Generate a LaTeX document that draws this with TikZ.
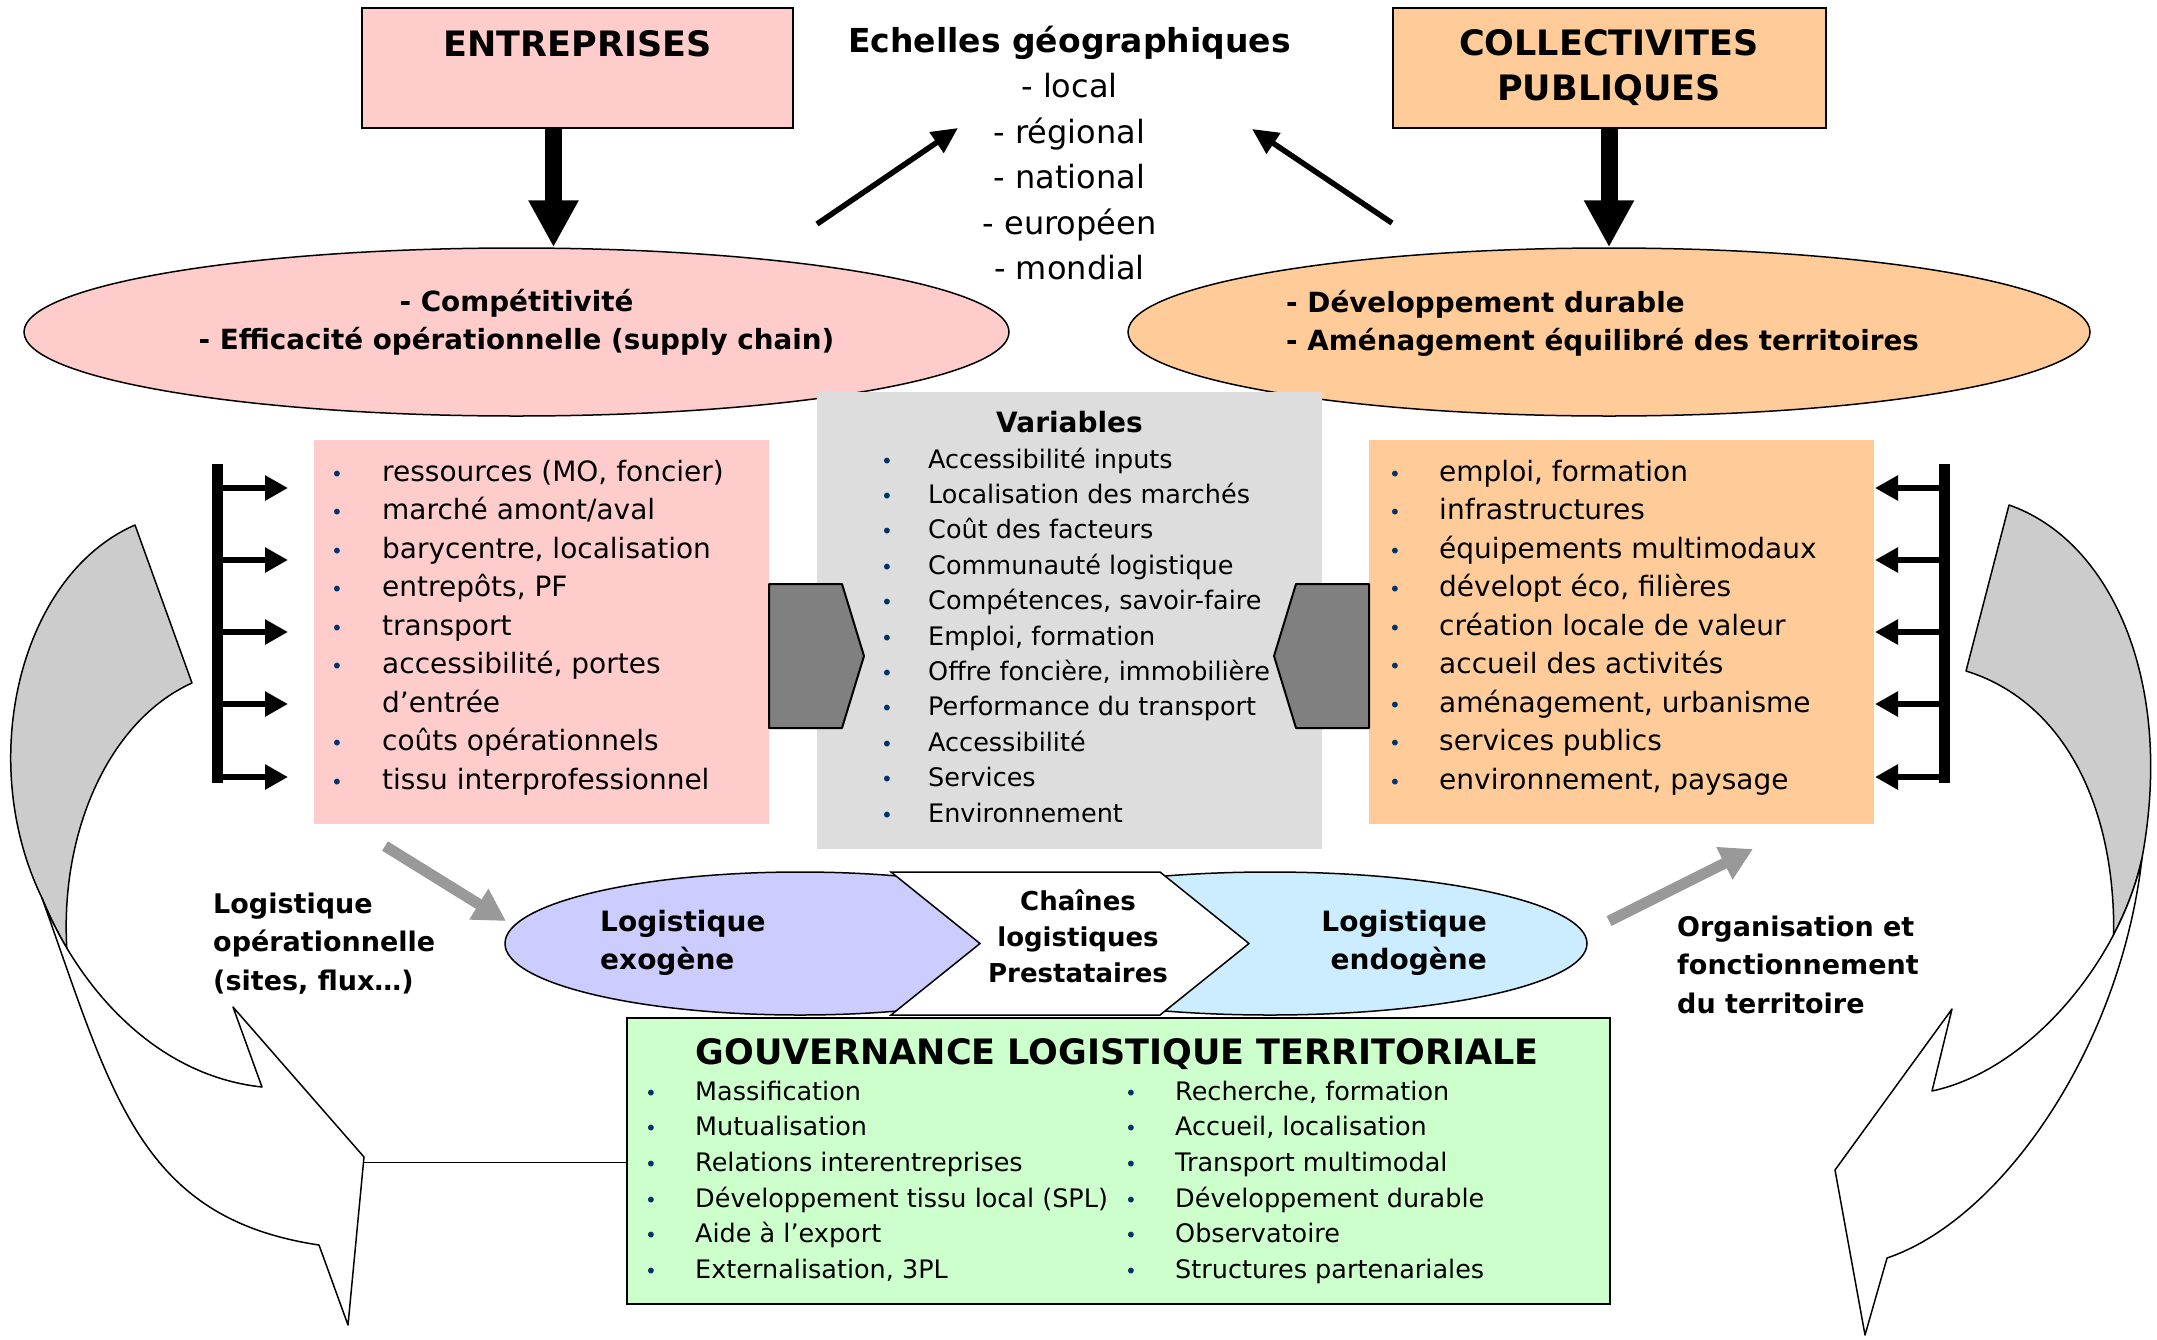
\documentclass[tikz,border=0pt]{standalone}
\usepackage{fontspec}
\setmainfont{DejaVu Sans}
\usetikzlibrary{shapes.geometric,arrows.meta}
\definecolor{rose}{HTML}{FFCCCC}
\definecolor{peche}{HTML}{FFCC99}
\definecolor{gris}{HTML}{DDDDDD}
\definecolor{vert}{HTML}{CCFFCC}
\definecolor{lavande}{HTML}{CCCCFF}
\definecolor{ciel}{HTML}{CCECFF}
\definecolor{ardoise}{HTML}{808080}
\definecolor{cendre}{HTML}{999999}
\definecolor{argent}{HTML}{CCCCCC}
\definecolor{puce}{HTML}{003366}
\newcommand{\bul}[1][44]{\makebox[#1pt][l]{\textcolor{puce}{\fontsize{20}{20}\selectfont\textbullet}}}
\begin{document}
\begin{tikzpicture}[x=1pt,y=-1pt,
  boite/.style={draw,line width=2pt,inner sep=0pt},
  liste/.style={inner sep=0pt,anchor=north west,align=left},
  gras/.style={inner sep=0pt,font=\fontsize{27}{38.5}\selectfont\bfseries},
  ovale/.style={ellipse,draw,line width=1.5pt,inner sep=0pt},
  grosse/.style={line width=17pt,-{Triangle[length=47pt,width=47pt]}},
  fine/.style={line width=5.5pt,-{Triangle[length=26pt,width=24pt]}},
  peigne/.style={line width=6pt,-{Triangle[length=23pt,width=24pt]}},
  grise/.style={draw=cendre,line width=11pt,-{Triangle[length=32pt,width=34pt]}},
  courbe/.style={draw,line width=1.5pt,line join=round}]
\path[use as bounding box,fill=white] (0,0) rectangle (2157,1339);
\node[boite,fill=rose,minimum width=431,text height=48,text depth=72,anchor=base,font=\fontsize{35}{45}\selectfont\bfseries] (entreprises) at (577.5,56) {ENTREPRISES};
\node[boite,fill=peche,minimum width=433,minimum height=120,align=center,font=\fontsize{35}{45}\selectfont\bfseries] (collectivites) at (1609,68) {COLLECTIVITES\\PUBLIQUES};
\node[ovale,fill=rose,minimum width=985,minimum height=168] (objentreprises) at (516.5,332) {};
\node[ovale,fill=peche,minimum width=962,minimum height=168] (objcollectivites) at (1609,332) {};
\node[gras,align=center,anchor=north,font=\fontsize{27.8}{38}\selectfont\bfseries] (txtentreprises) at (516.5,284.4) {\strut- Compétitivité\\- Efficacité opérationnelle (supply chain)};
\node[gras,align=left,anchor=north west,font=\fontsize{27.8}{38}\selectfont\bfseries] (txtcollectivites) at (1286,285.4) {\strut- Développement durable\\- Aménagement équilibré des territoires};
\node[inner sep=0pt,align=center,anchor=north,font=\fontsize{32}{45.5}\selectfont] (echelles) at (1069.5,20.15) {\strut{\fontsize{33}{45.5}\selectfont\bfseries Echelles géographiques}\\- local\\- régional\\- national\\- européen\\- mondial};
\draw[grosse] ([xshift=-24pt]entreprises.south) -- ([xshift=-24pt]entreprises.south |- objentreprises.north);
\draw[grosse] (collectivites.south) -- (objcollectivites.north);
\coordinate (departG) at (817,224);
\coordinate (arriveeG) at (958,128);
\coordinate (departD) at (1392,223);
\coordinate (arriveeD) at (1252,129);
\draw[fine] (departG) -- (arriveeG);
\draw[fine] (departD) -- (arriveeD);
\node[fill=rose,inner sep=0pt,minimum width=455,minimum height=384,anchor=north west] (cadreentreprises) at (314,440) {};
\node[fill=peche,inner sep=0pt,minimum width=505,minimum height=384,anchor=north west] (cadrecollectivites) at (1369,440) {};
\node[fill=gris,inner sep=0pt,minimum width=505,minimum height=457,anchor=north west] (variables) at (817,392) {};
\filldraw[fill=ardoise,line width=2pt,line join=round] (769,584) -- (842,584) -- (864,656) -- (842,728) -- (769,728) -- cycle;
\filldraw[fill=ardoise,line width=2pt,line join=round] (1369,584) -- (1296,584) -- (1274,656) -- (1296,728) -- (1369,728) -- cycle;
\node[inner sep=0pt,anchor=base,font=\fontsize{28}{28}\selectfont\bfseries] (vartitre) at (1069.5,432) {Variables};
\node[liste,font=\fontsize{25.5}{35.4}\selectfont] (varliste) at (881,443.2) {\strut\bul[47]Accessibilité inputs\\ \bul[47]Localisation des marchés\\ \bul[47]Coût des facteurs\\ \bul[47]Communauté logistique\\ \bul[47]Compétences, savoir-faire\\ \bul[47]Emploi, formation\\ \bul[47]Offre foncière, immobilière\\ \bul[47]Performance du transport\\ \bul[47]Accessibilité\\ \bul[47]Services\\ \bul[47]Environnement};
\node[liste,font=\fontsize{28}{38.5}\selectfont] (listentreprises) at (331,454) {\strut\bul[51]ressources (MO, foncier)\\ \bul[51]marché amont/aval\\ \bul[51]barycentre, localisation\\ \bul[51]entrepôts, PF\\ \bul[51]transport\\ \bul[51]accessibilité, portes\\ \hspace*{51pt}d’entrée\\ \bul[51]coûts opérationnels\\ \bul[51]tissu interprofessionnel};
\node[liste,font=\fontsize{28}{38.5}\selectfont] (listcollectivites) at (1389,454) {\strut\bul[50]emploi, formation\\ \bul[50]infrastructures\\ \bul[50]équipements multimodaux\\ \bul[50]dévelopt éco, filières\\ \bul[50]création locale de valeur\\ \bul[50]accueil des activités\\ \bul[50]aménagement, urbanisme\\ \bul[50]services publics\\ \bul[50]environnement, paysage};
\draw[line width=11pt] (217,464) -- (217,783);
\draw[peigne] (217,488) -- (288,488);
\draw[peigne] (217,560) -- (288,560);
\draw[peigne] (217,632) -- (288,632);
\draw[peigne] (217,704) -- (288,704);
\draw[peigne] (217,777) -- (288,777);
\draw[line width=11pt] (1944,464) -- (1944,783);
\draw[peigne] (1944,488) -- (1875,488);
\draw[peigne] (1944,560) -- (1875,560);
\draw[peigne] (1944,632) -- (1875,632);
\draw[peigne] (1944,704) -- (1875,704);
\draw[peigne] (1944,777) -- (1875,777);
\coordinate (opdepart) at (385,846);
\coordinate (oparrivee) at (506,921);
\coordinate (orgdepart) at (1609,921);
\coordinate (orgarrivee) at (1753,849);
\draw[grise] (opdepart) -- (oparrivee);
\draw[grise] (orgdepart) -- (orgarrivee);
\node[ovale,fill=ciel,minimum width=634,minimum height=143] (endogene) at (1270,943.5) {};
\node[ovale,fill=lavande,minimum width=590,minimum height=143] (exogene) at (800,943.5) {};
\filldraw[fill=white,line width=1.5pt] (891,872) -- (1160,872) -- (1249,943.5) -- (1160,1015) -- (891,1015) -- (980,943.5) -- cycle;
\node[gras,align=left,anchor=north west,font=\fontsize{28}{38}\selectfont\bfseries] (txtexogene) at (600,904.4) {\strut Logistique\\exogène};
\node[gras,align=right,anchor=north east,font=\fontsize{28}{38}\selectfont\bfseries] (txtendogene) at (1487,904.4) {\strut Logistique\\endogène};
\node[gras,align=center,anchor=north,font=\fontsize{26}{36}\selectfont\bfseries] (chaines) at (1078,884.8) {\strut Chaînes\\logistiques\\Prestataires};
\node[gras,align=left,anchor=north west] (logop) at (213,886) {\strut Logistique\\opérationnelle\\(sites, flux…)};
\node[gras,align=left,anchor=north west] (orgterr) at (1677,909) {\strut Organisation et\\fonctionnement\\du territoire};
\node[boite,fill=vert,minimum width=983,minimum height=286,anchor=north west] (gouvernance) at (626,1017) {};
\coordinate (trait) at (158,1162);
\draw[line width=1pt] (trait) -- (trait -| gouvernance.west);
\node[inner sep=0pt,anchor=base,font=\fontsize{35}{45}\selectfont\bfseries] (gouvtitre) at (1117,1064) {GOUVERNANCE LOGISTIQUE TERRITORIALE};
\node[liste,font=\fontsize{25.5}{35.6}\selectfont] (gouvgauche) at (645,1075.1) {\strut\bul[50]Massification\\ \bul[50]Mutualisation\\ \bul[50]Relations interentreprises\\ \bul[50]Développement tissu local (SPL)\\ \bul[50]Aide à l’export\\ \bul[50]Externalisation, 3PL};
\node[liste,font=\fontsize{25.5}{35.6}\selectfont] (gouvdroite) at (1125,1075.1) {\strut\bul[50]Recherche, formation\\ \bul[50]Accueil, localisation\\ \bul[50]Transport multimodal\\ \bul[50]Développement durable\\ \bul[50]Observatoire\\ \bul[50]Structures partenariales};
\filldraw[courbe,fill=argent] (135,525) .. controls (20,575) and (-25,760) .. (42,898) .. controls (48.6,914.4) and (56.9,931.3) .. (66.8,948) .. controls (60,830) and (110,720) .. (192,683) -- cycle;
\filldraw[courbe,fill=white] (42,898) .. controls (75,980) and (150,1075) .. (262,1087) -- (233,1007) -- (364,1157) -- (348,1325) -- (319,1245) .. controls (139,1218) and (112,1094) .. (42,898) -- cycle;
\filldraw[courbe,fill=argent] (2009,505) .. controls (2110,540) and (2175,680) .. (2142,858) .. controls (2136.5,883.5) and (2126.75,909.5) .. (2113.7,934.5) .. controls (2115,800) and (2060,700) .. (1966,671) -- cycle;
\filldraw[courbe,fill=white] (2142,858) .. controls (2120,960) and (2030,1070) .. (1932,1091) -- (1952,1009) -- (1835,1170) -- (1865,1335) -- (1887,1258) .. controls (2000,1220) and (2120,1050) .. (2142,858) -- cycle;
\end{tikzpicture}
\end{document}
